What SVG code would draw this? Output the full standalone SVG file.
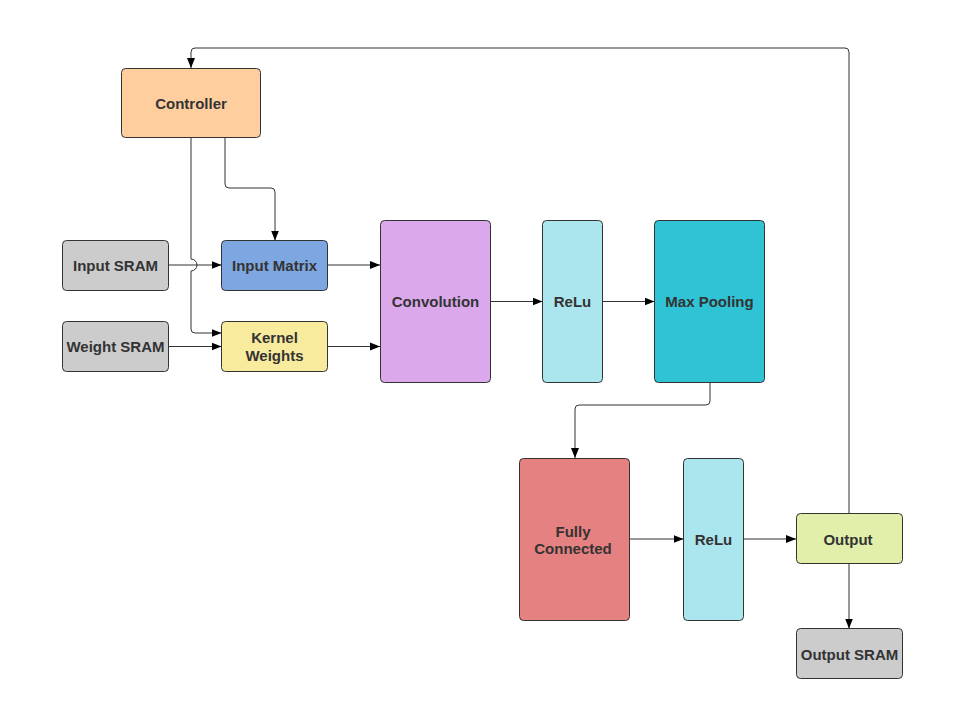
<svg xmlns="http://www.w3.org/2000/svg" width="967" height="727" viewBox="0 0 967 727">
<style>
.n{stroke:#333;stroke-width:1}
.t{font-family:"Liberation Sans",Arial,sans-serif;font-size:15px;font-weight:bold;fill:#333;text-anchor:middle;dominant-baseline:central}
.c{fill:none;stroke:#333;stroke-width:1}
</style>
<defs>
<marker id="a" viewBox="0 0 10 10" refX="10" refY="5" markerWidth="10" markerHeight="10" markerUnits="userSpaceOnUse" orient="auto">
<path d="M0,1 L10,5 L0,9 Z" fill="#000"/>
</marker>
</defs>
<rect width="967" height="727" fill="#fff"/>
<g id="connectors">
<path class="c" d="M849,513.5 V52 Q849,48 845,48 H195 Q191,48 191,52 V68" marker-end="url(#a)"/>
<path class="c" d="M191,137.5 V259 A6,6 0 0 1 191,271 V329 Q191,333 195,333 H221.5" marker-end="url(#a)"/>
<path class="c" d="M225,137.5 V184 Q225,188 229,188 H271 Q275,188 275,192 V240.5" marker-end="url(#a)"/>
<path class="c" d="M168,265 H221.5" marker-end="url(#a)"/>
<path class="c" d="M168,346.5 H221.5" marker-end="url(#a)"/>
<path class="c" d="M327.5,265 H380" marker-end="url(#a)"/>
<path class="c" d="M327.5,346.5 H380" marker-end="url(#a)"/>
<path class="c" d="M490,301.5 H542.5" marker-end="url(#a)"/>
<path class="c" d="M602.5,301.5 H654.5" marker-end="url(#a)"/>
<path class="c" d="M710,382.5 V401 Q710,405 706,405 H579 Q575,405 575,409 V458" marker-end="url(#a)"/>
<path class="c" d="M629.5,539 H683.5" marker-end="url(#a)"/>
<path class="c" d="M743.5,539 H796" marker-end="url(#a)"/>
<path class="c" d="M849,563.5 V628.5" marker-end="url(#a)"/>
</g>
<g id="controller"><rect class="n" x="121.5" y="68.5" width="139" height="69" rx="4" fill="#FFCE9F"/><text class="t" x="191" y="103">Controller</text></g>
<g id="input-sram"><rect class="n" x="62.5" y="240.5" width="106" height="50" rx="4" fill="#CCCCCC"/><text class="t" x="115.5" y="265.5">Input SRAM</text></g>
<g id="input-matrix"><rect class="n" x="221.5" y="240.5" width="106" height="50" rx="4" fill="#7EA6E0"/><text class="t" x="274.5" y="265.5">Input Matrix</text></g>
<g id="weight-sram"><rect class="n" x="62.5" y="321.5" width="106" height="50" rx="4" fill="#CCCCCC"/><text class="t" x="115.5" y="346.5">Weight SRAM</text></g>
<g id="kernel-weights"><rect class="n" x="221.5" y="321.5" width="106" height="50" rx="4" fill="#F8EB9E"/><text class="t" x="274.5" y="337.5">Kernel</text><text class="t" x="274.5" y="355.5">Weights</text></g>
<g id="convolution"><rect class="n" x="380.5" y="220.5" width="110" height="162" rx="4" fill="#DBA8EC"/><text class="t" x="435.5" y="301.5">Convolution</text></g>
<g id="relu1"><rect class="n" x="542.5" y="220.5" width="60" height="162" rx="4" fill="#ABE6EE"/><text class="t" x="572.5" y="301.5">ReLu</text></g>
<g id="max-pooling"><rect class="n" x="654.5" y="220.5" width="110" height="162" rx="4" fill="#30C2D5"/><text class="t" x="709.5" y="301.5">Max Pooling</text></g>
<g id="fully-connected"><rect class="n" x="519.5" y="458.5" width="110" height="162" rx="4" fill="#E68181"/><text class="t" x="573" y="531">Fully</text><text class="t" x="573" y="548">Connected</text></g>
<g id="relu2"><rect class="n" x="683.5" y="458.5" width="60" height="162" rx="4" fill="#ABE6EE"/><text class="t" x="713.5" y="539">ReLu</text></g>
<g id="output"><rect class="n" x="796.5" y="513.5" width="106" height="50" rx="4" fill="#E1EFAA"/><text class="t" x="848" y="539">Output</text></g>
<g id="output-sram"><rect class="n" x="796.5" y="628.5" width="106" height="50" rx="4" fill="#CCCCCC"/><text class="t" x="849.5" y="654">Output SRAM</text></g>
</svg>
